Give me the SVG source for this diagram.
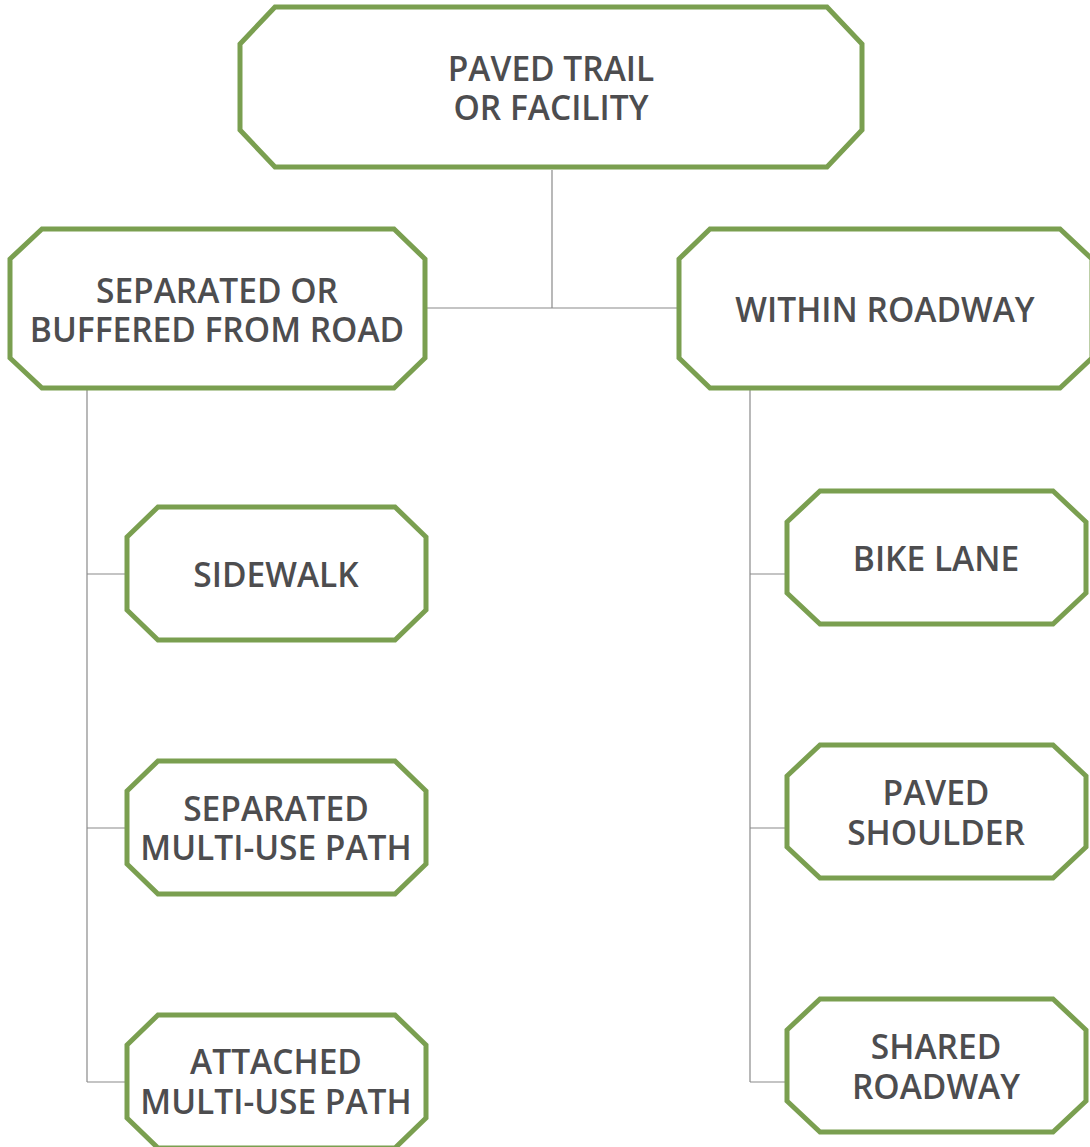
<svg xmlns="http://www.w3.org/2000/svg" width="1090" height="1147" viewBox="0 0 1090 1147">
<style>
.node{fill:#ffffff;stroke:#7a9f50;stroke-width:5;stroke-linejoin:miter}
.conn{stroke:#8a8a8a;stroke-width:1.2;fill:none}
text{font-family:"Open Sans","Liberation Sans",sans-serif;font-size:33.5px;font-weight:600;fill:#4d4d4f;text-anchor:middle}
</style>
<rect width="1090" height="1147" fill="#ffffff"/>
<g id="connectors">
<path class="conn" d="M552 170V308M427 308H678"/>
<path class="conn" d="M87 390V1082M87 574H127M87 828H127M87 1082H127"/>
<path class="conn" d="M750 390V1082M750 574H786M750 828H786M750 1082H786"/>
</g>
<g id="n-paved">
<polygon class="node" points="275,7 827,7 862,44 862,130 827,167 275,167 240,130 240,44"/>
<text x="551" y="81">PAVED TRAIL</text>
<text x="551" y="120">OR FACILITY</text>
</g>
<g id="n-separated">
<polygon class="node" points="42,229 394,229 425,259 425,358 394,388 42,388 10,358 10,259"/>
<text x="217" y="303">SEPARATED OR</text>
<text x="217" y="342">BUFFERED FROM ROAD</text>
</g>
<g id="n-within">
<polygon class="node" points="710,229 1060,229 1092,259 1092,358 1060,388 710,388 679,358 679,259"/>
<text x="885" y="322">WITHIN ROADWAY</text>
</g>
<g id="n-sidewalk">
<polygon class="node" points="158,507 395,507 426,537 426,610 395,640 158,640 127,610 127,537"/>
<text x="276" y="587">SIDEWALK</text>
</g>
<g id="n-sep-mup">
<polygon class="node" points="158,761 395,761 426,791 426,864 395,894 158,894 127,864 127,791"/>
<text x="276" y="821">SEPARATED</text>
<text x="276" y="860">MULTI-USE PATH</text>
</g>
<g id="n-att-mup">
<polygon class="node" points="158,1015 395,1015 426,1045 426,1118 395,1148 158,1148 127,1118 127,1045"/>
<text x="276" y="1074">ATTACHED</text>
<text x="276" y="1114">MULTI-USE PATH</text>
</g>
<g id="n-bike">
<polygon class="node" points="820,491 1053,491 1086,522 1086,593 1053,624 820,624 787,593 787,522"/>
<text x="936" y="571">BIKE LANE</text>
</g>
<g id="n-shoulder">
<polygon class="node" points="820,745 1053,745 1086,776 1086,847 1053,878 820,878 787,847 787,776"/>
<text x="936" y="805">PAVED</text>
<text x="936" y="845">SHOULDER</text>
</g>
<g id="n-shared">
<polygon class="node" points="820,999 1053,999 1086,1030 1086,1101 1053,1132 820,1132 787,1101 787,1030"/>
<text x="936" y="1059">SHARED</text>
<text x="936" y="1099">ROADWAY</text>
</g>
</svg>
